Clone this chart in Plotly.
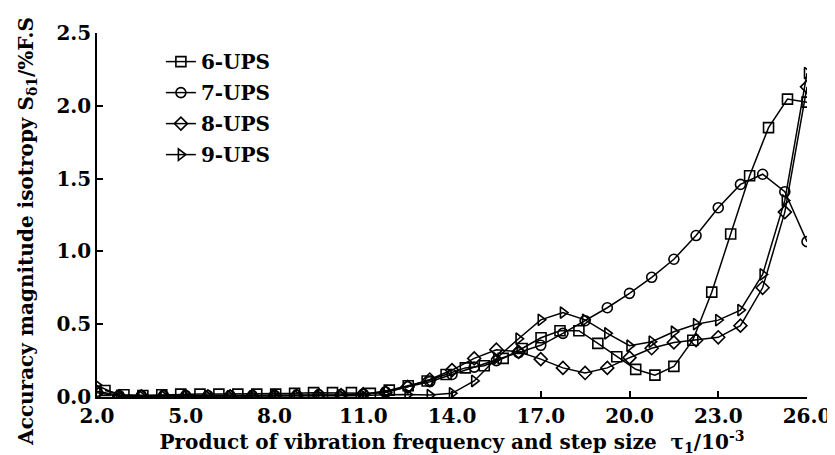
import plotly.graph_objects as go

# x positions (10^-3)
x_ups6 = [2.27, 2.91, 3.55, 4.19, 4.83, 5.48, 6.12, 6.76, 7.40, 8.04, 8.68, 9.32, 9.96,
          10.60, 11.24, 11.88, 12.52, 13.16, 13.80, 14.45, 15.09, 15.73, 16.37, 17.01,
          17.65, 18.29, 18.93, 19.57, 20.21, 20.86, 21.50, 22.14, 22.78, 23.42, 24.06,
          24.70, 25.34, 26.00]
x_grid = [2.0, 2.75, 3.5, 4.25, 5.0, 5.75, 6.5, 7.25, 8.0, 8.75, 9.5, 10.25, 11.0,
          11.75, 12.5, 13.25, 14.0, 14.75, 15.5, 16.25, 17.0, 17.75, 18.5, 19.25, 20.0,
          20.75, 21.5, 22.25, 23.0, 23.75, 24.5, 25.25, 26.0]

ups6 = [0.045, 0.015, 0.01, 0.015, 0.02, 0.02, 0.02, 0.02, 0.02, 0.02, 0.025, 0.03, 0.03,
        0.03, 0.025, 0.047, 0.077, 0.11, 0.155, 0.2, 0.215, 0.265, 0.333, 0.407,
        0.455, 0.455, 0.368, 0.276, 0.19, 0.15, 0.21, 0.39, 0.72, 1.12, 1.52,
        1.85, 2.046, 2.025]
ups7 = [0.04, 0.01, 0.01, 0.01, 0.01, 0.01, 0.01, 0.01, 0.012, 0.012, 0.015, 0.015, 0.02,
        0.035, 0.07, 0.105, 0.155, 0.205, 0.25, 0.305, 0.355, 0.437, 0.524, 0.613, 0.712,
        0.822, 0.946, 1.109, 1.30, 1.46, 1.53, 1.41, 1.067]
ups8 = [0.03, 0.005, 0.005, 0.005, 0.005, 0.005, 0.005, 0.005, 0.008, 0.01, 0.012, 0.012, 0.02,
        0.03, 0.07, 0.12, 0.185, 0.265, 0.325, 0.31, 0.26, 0.20, 0.165, 0.20, 0.27,
        0.335, 0.375, 0.39, 0.41, 0.49, 0.75, 1.27, 2.13]
ups9 = [0.08, 0.01, 0.005, 0.005, 0.005, 0.005, 0.005, 0.005, 0.005, 0.008, 0.008, 0.01, 0.01,
        0.015, 0.017, 0.013, 0.025, 0.11, 0.265, 0.40, 0.53, 0.58, 0.53, 0.437, 0.352,
        0.38, 0.448, 0.50, 0.528, 0.597, 0.842, 1.35, 2.225]

x_ticks = [2, 5, 8, 11, 14, 17, 20, 23, 26]
y_ticks = [0.0, 0.5, 1.0, 1.5, 2.0, 2.5]

series = [
    ("6-UPS", x_ups6, ups6, "square-open"),
    ("7-UPS", x_grid, ups7, "circle-open"),
    ("8-UPS", x_grid, ups8, "diamond-open"),
    ("9-UPS", x_grid, ups9, "triangle-right-open"),
]

FONT = "DejaVu Serif"
TF = dict(family=FONT, size=20, color="black", weight="bold")
fig = go.Figure()
for name, xs, ys, sym in series:
    fig.add_trace(go.Scatter(
        x=xs, y=ys, name=name, mode="lines+markers", legendgroup=name,
        line=dict(color="black", width=1.5),
        marker=dict(symbol=sym, size=10, color="black", line=dict(width=1.6, color="black")),
    ))

fig.update_layout(
    width=835, height=455,
    margin=dict(l=89, r=26, t=25, b=66),
    paper_bgcolor="white", plot_bgcolor="white",
    font=TF,
    showlegend=True,
    legend=dict(x=0.09, y=0.975, xanchor="left", yanchor="top",
                font=TF, bgcolor="rgba(0,0,0,0)", itemwidth=30, tracegroupgap=2),
    annotations=[dict(
        text="Accuracy magnitude isotropy S<sub>δ1</sub>/%F.S",
        xref="paper", yref="paper", x=-0.098, y=0.455,
        xanchor="center", yanchor="middle", textangle=-90, showarrow=False,
        font=TF)],
)
fig.update_xaxes(
    range=[2, 26], tickvals=x_ticks, ticktext=[f"{v:.1f}" for v in x_ticks],
    showgrid=False, zeroline=False, showline=True, linecolor="black", linewidth=1.5,
    ticks="inside", ticklen=6, tickwidth=1.5, tickcolor="black",
    tickfont=TF,
    title=dict(text="Product of vibration frequency and step size  τ<sub>1</sub>/10<sup>-3</sup>",
               font=TF, standoff=0),
)
fig.update_yaxes(
    range=[0, 2.5], tickvals=y_ticks, ticktext=[f"{v:.1f}" for v in y_ticks],
    showgrid=False, zeroline=False, showline=True, linecolor="black", linewidth=1.5,
    ticks="inside", ticklen=6, tickwidth=1.5, tickcolor="black",
    tickfont=TF,
)
fig.write_html("out.html")
